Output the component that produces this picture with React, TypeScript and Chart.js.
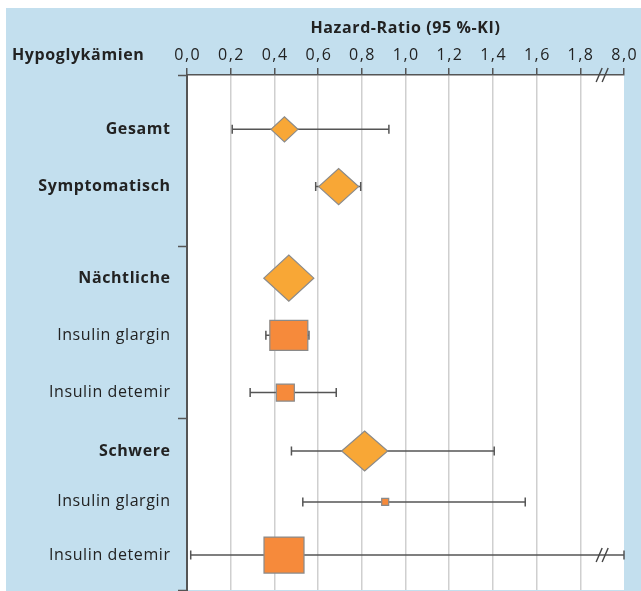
import React, { useEffect, useRef } from "react";
import { Chart, registerables } from "chart.js";

Chart.register(...registerables);

// ---------- data ----------
const categories = [
  "Gesamt",
  "Symptomatisch",
  "Nächtliche",
  "Insulin glargin",
  "Insulin detemir",
  "Schwere",
  "Insulin glargin",
  "Insulin detemir",
];
const boldRows = [true, true, true, false, false, true, false, false];
const rowPositions = [0.95, 1.95, 3.55, 4.55, 5.55, 6.57, 7.46, 8.39];
const hazardRatio = [0.446, 0.694, 0.466, 0.466, 0.45, 0.813, 0.907, 0.444];
const ciLower: (number | null)[] = [0.207, 0.589, null, 0.361, 0.289, 0.478, 0.53, 0.017];
const ciUpper: (number | null)[] = [0.924, 0.795, null, 0.558, 0.683, 1.406, 1.548, 8.0];
const markerKind = ["diamond", "diamond", "diamond", "box", "box", "diamond", "box", "box"];
const sectionTicks = [0, 3, 6, 9];
const tickValues = [0, 0.2, 0.4, 0.6, 0.8, 1.0, 1.2, 1.4, 1.6, 1.8, 2.0];
const tickLabels = ["0,0", "0,2", "0,4", "0,6", "0,8", "1,0", "1,2", "1,4", "1,6", "1,8", "8,0"];
const axisBreakAt = 1.9;
const xTitle = "Hazard-Ratio (95 %-KI)";
const yTitle = "Hypoglykämien";

// ---------- style ----------
const BLUE = "#c3dfee";
const DIAMOND_FILL = "#f8a736";
const BOX_FILL = "#f68a3b";
const MARKER_EDGE = "#8a8a8a";
const LINE = "#555555";
const GRID = "#cfcfcf";
const FONT = "'Open Sans', 'Noto Sans', sans-serif";
const markerHalf: [number, number][] = [
  [13.5, 12.5],
  [20, 18],
  [25, 23],
  [19, 15],
  [9, 8.5],
  [23, 20],
  [3.5, 3.5],
  [20, 18],
];

const axisValue = (v: number) => (v > tickValues[tickValues.length - 1] ? tickValues[tickValues.length - 1] : v);

function drawSlashes(ctx: CanvasRenderingContext2D, cx: number, cy: number) {
  ctx.save();
  ctx.strokeStyle = "#444";
  ctx.lineWidth = 1.4;
  for (const off of [-3, 3]) {
    ctx.beginPath();
    ctx.moveTo(cx + off - 3, cy + 7);
    ctx.lineTo(cx + off + 3, cy - 7);
    ctx.stroke();
  }
  ctx.restore();
}

const forestPlugin = {
  id: "forest",
  beforeDraw(chart: any) {
    const { ctx, chartArea, width, height } = chart;
    ctx.save();
    ctx.fillStyle = BLUE;
    ctx.fillRect(0, 0, width, height);
    ctx.fillStyle = "#ffffff";
    ctx.fillRect(chartArea.left, chartArea.top, chartArea.right - chartArea.left, chartArea.bottom - chartArea.top);
    ctx.restore();
  },
  afterDatasetsDraw(chart: any) {
    const { ctx } = chart;
    const xs = chart.scales.x;
    const meta = chart.getDatasetMeta(0);
    ctx.save();
    // whiskers
    meta.data.forEach((pt: any, i: number) => {
      const lo = ciLower[i];
      const hi = ciUpper[i];
      if (lo == null || hi == null) return;
      const x1 = xs.getPixelForValue(axisValue(lo));
      const x2 = xs.getPixelForValue(axisValue(hi));
      const y = pt.y;
      ctx.strokeStyle = LINE;
      ctx.lineWidth = 1.5;
      ctx.beginPath();
      ctx.moveTo(x1, y);
      ctx.lineTo(x2, y);
      ctx.moveTo(x1, y - 4.5);
      ctx.lineTo(x1, y + 4.5);
      ctx.moveTo(x2, y - 4.5);
      ctx.lineTo(x2, y + 4.5);
      ctx.stroke();
      if (hi > tickValues[tickValues.length - 1]) {
        drawSlashes(ctx, xs.getPixelForValue(axisBreakAt), y);
      }
    });
    // markers
    meta.data.forEach((pt: any, i: number) => {
      const [hw, hh] = markerHalf[i];
      const x = pt.x;
      const y = pt.y;
      ctx.lineWidth = 1.2;
      ctx.strokeStyle = MARKER_EDGE;
      ctx.beginPath();
      if (markerKind[i] === "diamond") {
        ctx.moveTo(x - hw, y);
        ctx.lineTo(x, y - hh);
        ctx.lineTo(x + hw, y);
        ctx.lineTo(x, y + hh);
        ctx.closePath();
        ctx.fillStyle = DIAMOND_FILL;
      } else {
        ctx.rect(x - hw, y - hh, hw * 2, hh * 2);
        ctx.fillStyle = BOX_FILL;
      }
      ctx.fill();
      ctx.stroke();
    });
    ctx.restore();
  },
  afterDraw(chart: any) {
    const { ctx, chartArea } = chart;
    const xs = chart.scales.x;
    const meta = chart.getDatasetMeta(0);
    ctx.save();
    drawSlashes(ctx, xs.getPixelForValue(axisBreakAt), chartArea.top);
    ctx.fillStyle = "#222";
    ctx.textBaseline = "middle";
    (ctx as any).letterSpacing = "0.6px";
    // x title
    ctx.font = `bold 16px ${FONT}`;
    ctx.textAlign = "center";
    ctx.fillText(xTitle, (chartArea.left + chartArea.right) / 2, 20);
    // y title
    ctx.textAlign = "left";
    ctx.fillText(yTitle, 6, 47);
    // tick labels
    (ctx as any).letterSpacing = "1.5px";
    ctx.font = `16px ${FONT}`;
    ctx.textAlign = "center";
    tickValues.forEach((v, i) => {
      ctx.fillText(tickLabels[i], xs.getPixelForValue(v) + 0.75, 47);
    });
    // row labels
    (ctx as any).letterSpacing = "0.6px";
    ctx.textAlign = "right";
    meta.data.forEach((pt: any, i: number) => {
      ctx.font = `${boldRows[i] ? "bold " : ""}16px ${FONT}`;
      ctx.fillText(categories[i], 164.6, pt.y);
    });
    ctx.restore();
  },
};

export default function App() {
  const ref = useRef<HTMLCanvasElement>(null);
  useEffect(() => {
    document.documentElement.style.overflow = "hidden";
    const canvas = ref.current!;
    const chart = new Chart(canvas, {
      type: "scatter",
      data: {
        datasets: [
          {
            label: "HR",
            data: hazardRatio.map((v, i) => ({ x: v, y: rowPositions[i] })),
            pointRadius: 0,
            showLine: false,
          },
        ],
      },
      options: {
        animation: false,
        responsive: false,
        maintainAspectRatio: false,
        layout: { padding: { left: 0, right: 17, top: 0, bottom: 1 } },
        plugins: { legend: { display: false }, tooltip: { enabled: false } },
        scales: {
          x: {
            type: "linear",
            position: "top",
            min: 0,
            max: 2,
            afterBuildTicks: (s: any) => {
              s.ticks = tickValues.map((v) => ({ value: v }));
            },
            afterFit: (s: any) => {
              s.height = 67;
            },
            ticks: { display: false },
            grid: {
              color: (c: any) =>
                c.tick && (c.tick.value === 0 || c.tick.value === 2) ? "rgba(0,0,0,0)" : GRID,
              lineWidth: 1.5,
              drawTicks: true,
              tickLength: 7,
              tickColor: LINE,
              tickWidth: 1.5,
            },
            border: { color: LINE, width: 1.5 },
          },
          y: {
            type: "linear",
            reverse: true,
            min: 0,
            max: 9,
            afterBuildTicks: (s: any) => {
              s.ticks = sectionTicks.map((v) => ({ value: v }));
            },
            afterFit: (s: any) => {
              s.width = 181;
            },
            ticks: { display: false },
            grid: {
              drawOnChartArea: false,
              drawTicks: true,
              tickLength: 9,
              tickColor: LINE,
              tickWidth: 1.5,
            },
            border: { color: LINE, width: 2 },
          },
        },
      } as any,
      plugins: [forestPlugin],
    });
    return () => chart.destroy();
  }, []);
  return (
    <div style={{ position: "absolute", left: 6, top: 8, width: 635, height: 583, background: BLUE }}>
      <canvas ref={ref} width={635} height={583} style={{ display: "block" }} />
    </div>
  );
}
